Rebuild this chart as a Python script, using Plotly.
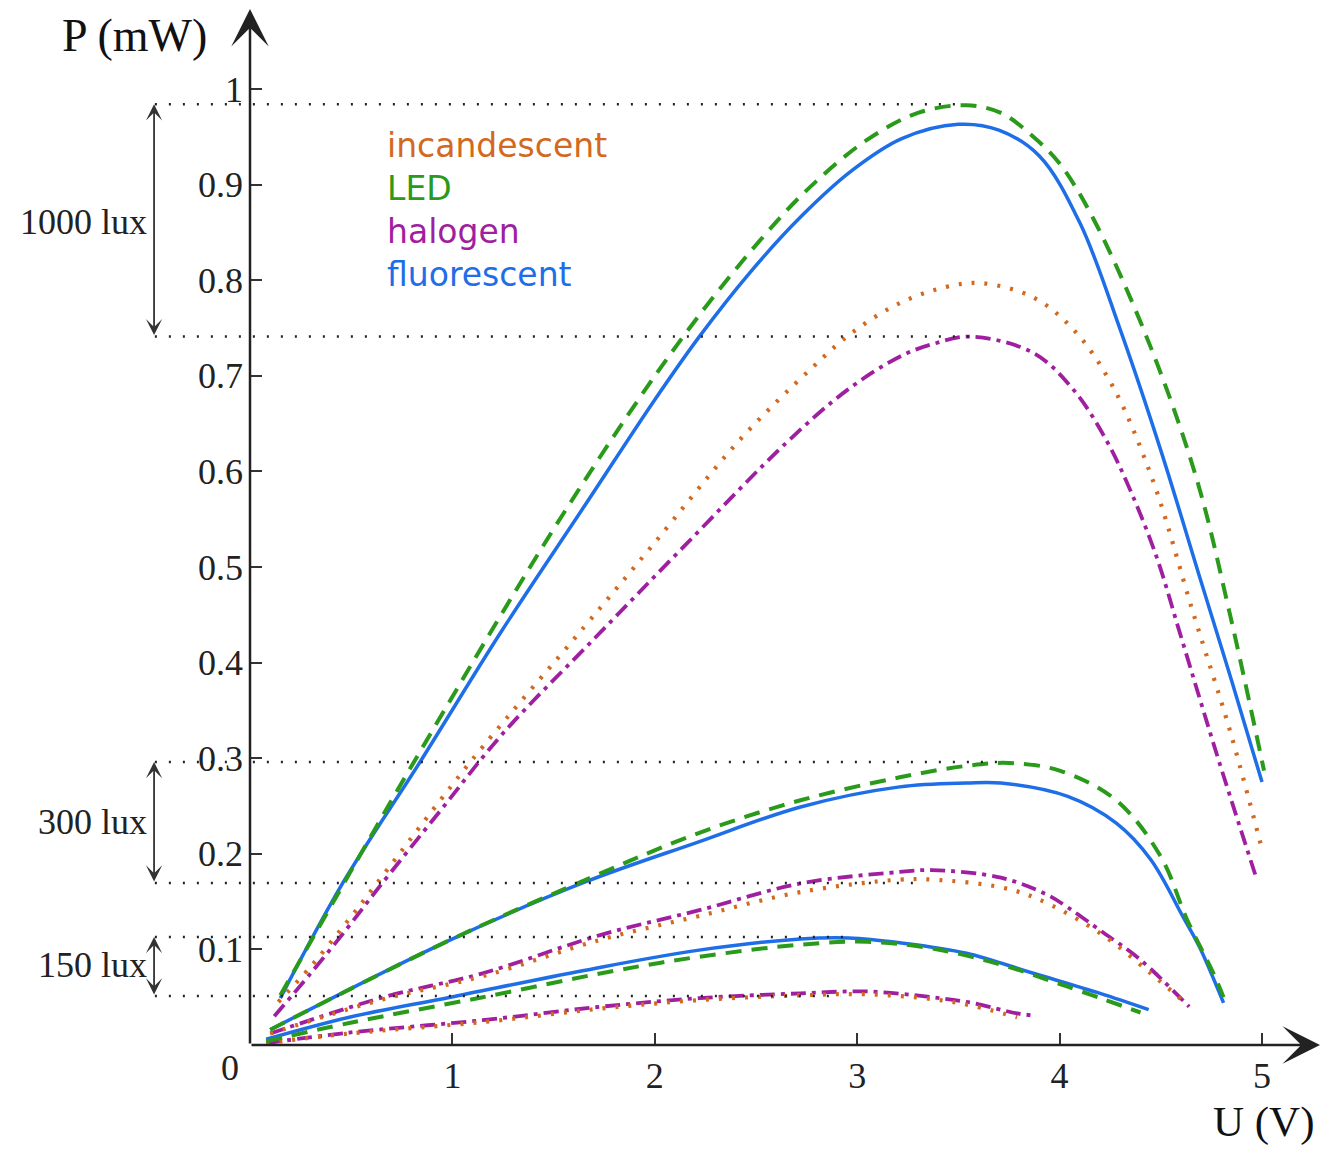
import plotly.graph_objects as go

# ---------------- data (U in V, P in mW) ----------------
fluo_1000_u = [0.15, 0.46, 0.84, 1.24, 1.65, 2.00, 2.22, 2.47, 2.72, 2.97, 3.22, 3.50, 3.70, 3.90, 4.10, 4.30, 4.50, 4.70, 4.85, 5.00]
fluo_1000_p = [0.049, 0.17, 0.296, 0.432, 0.563, 0.675, 0.741, 0.808, 0.866, 0.914, 0.948, 0.963, 0.957, 0.93, 0.86, 0.748, 0.622, 0.484, 0.381, 0.275]

led_1000_u = [0.15, 0.81, 1.57, 2.14, 2.55, 2.78, 3.05, 3.30, 3.54, 3.71, 3.87, 4.00, 4.17, 4.45, 4.68, 4.84, 5.01]
led_1000_p = [0.052, 0.296, 0.563, 0.741, 0.849, 0.900, 0.947, 0.975, 0.983, 0.975, 0.950, 0.922, 0.863, 0.73, 0.59, 0.452, 0.287]

inc_1000_u = [0.14, 0.30, 0.48, 0.63, 0.94, 1.15, 1.65, 1.99, 2.42, 2.78, 2.98, 3.21, 3.44, 3.61, 3.87, 4.07, 4.26, 4.46, 4.66, 4.84, 5.00]
inc_1000_p = [0.045, 0.082, 0.129, 0.17, 0.256, 0.312, 0.437, 0.523, 0.633, 0.709, 0.746, 0.776, 0.793, 0.797, 0.782, 0.748, 0.69, 0.591, 0.452, 0.33, 0.205]

hal_1000_u = [0.12, 0.30, 0.48, 0.63, 0.94, 1.25, 1.71, 2.16, 2.65, 2.95, 3.21, 3.37, 3.56, 3.87, 4.07, 4.23, 4.35, 4.48, 4.59, 4.69, 4.79, 4.97]
hal_1000_p = [0.03, 0.075, 0.122, 0.163, 0.245, 0.326, 0.427, 0.525, 0.63, 0.685, 0.72, 0.733, 0.741, 0.724, 0.685, 0.633, 0.58, 0.51, 0.434, 0.364, 0.295, 0.176]

fluo_300_u = [0.10, 0.99, 1.65, 2.21, 2.72, 3.21, 3.54, 3.71, 4.04, 4.28, 4.45, 4.61, 4.69, 4.81]
fluo_300_p = [0.016, 0.11, 0.17, 0.212, 0.249, 0.27, 0.274, 0.274, 0.26, 0.232, 0.194, 0.134, 0.103, 0.044]

led_300_u = [0.10, 0.99, 1.65, 2.22, 2.72, 3.21, 3.54, 3.75, 4.00, 4.28, 4.50, 4.63, 4.76, 4.81]
led_300_p = [0.016, 0.11, 0.172, 0.222, 0.256, 0.28, 0.292, 0.295, 0.287, 0.256, 0.197, 0.131, 0.075, 0.05]

hal_300_u = [0.10, 0.66, 1.15, 1.73, 2.22, 2.72, 3.21, 3.37, 3.71, 3.94, 4.04, 4.20, 4.40, 4.64]
hal_300_p = [0.012, 0.05, 0.075, 0.115, 0.141, 0.169, 0.181, 0.183, 0.175, 0.157, 0.144, 0.12, 0.089, 0.04]

inc_300_u = [0.10, 0.66, 1.15, 1.73, 2.22, 2.72, 3.21, 3.37, 3.71, 3.89, 4.20, 4.45, 4.62]
inc_300_p = [0.012, 0.048, 0.072, 0.11, 0.135, 0.16, 0.173, 0.173, 0.165, 0.153, 0.117, 0.075, 0.044]

fluo_150_u = [0.08, 0.49, 0.99, 1.65, 2.21, 2.72, 2.96, 3.21, 3.54, 3.87, 4.20, 4.44]
fluo_150_p = [0.006, 0.029, 0.05, 0.078, 0.099, 0.111, 0.112, 0.107, 0.096, 0.075, 0.054, 0.037]

led_150_u = [0.08, 0.49, 1.15, 1.81, 2.21, 2.72, 3.05, 3.37, 3.71, 4.04, 4.40]
led_150_p = [0.004, 0.023, 0.05, 0.078, 0.092, 0.105, 0.108, 0.101, 0.084, 0.061, 0.034]

hal_150_u = [0.08, 0.49, 1.15, 1.73, 2.22, 2.72, 3.05, 3.37, 3.57, 3.79, 3.87]
hal_150_p = [0.002, 0.013, 0.026, 0.04, 0.049, 0.054, 0.056, 0.05, 0.044, 0.033, 0.031]

inc_150_u = [0.08, 0.49, 1.15, 1.73, 2.22, 2.72, 3.05, 3.37, 3.57, 3.79]
inc_150_p = [0.002, 0.012, 0.024, 0.038, 0.047, 0.052, 0.053, 0.048, 0.041, 0.029]

# reference levels (dotted lines): level, end voltage
ref_levels = [0.984, 0.741, 0.296, 0.1695, 0.113, 0.0513]
ref_ends = [3.52, 3.57, 3.72, 3.32, 2.97, 2.92]

lux_labels = ["1000 lux", "300 lux", "150 lux"]
lux_top = [0.984, 0.296, 0.113]
lux_bottom = [0.741, 0.1695, 0.0513]
lux_text_y = [0.861, 0.233, 0.084]

legend_names = ["incandescent", "LED", "halogen", "fluorescent"]

x_ticks = [1, 2, 3, 4, 5]
y_ticks = [0.1, 0.2, 0.3, 0.4, 0.5, 0.6, 0.7, 0.8, 0.9, 1.0]
y_ticktext = ["0.1", "0.2", "0.3", "0.4", "0.5", "0.6", "0.7", "0.8", "0.9", "1"]

# ---------------- styles ----------------
C_INC = "#d2691e"
C_LED = "#2a9a1a"
C_HAL = "#a01fa0"
C_FLU = "#1e6ee8"
legend_colors = [C_INC, C_LED, C_HAL, C_FLU]

sty = {
    "hal": dict(color=C_HAL, width=3.8, dash="15px,6px,4px,6px"),
    "inc": dict(color=C_INC, width=4.2, dash="3px,10px"),
    "flu": dict(color=C_FLU, width=3.5),
    "led": dict(color=C_LED, width=4, dash="16px,10px"),
}

XMAX = 1070 / 202.4
YMAX = 1037 / 956.0
PXU = 956.0  # pixels per mW on the y axis
SERIF = "Liberation Serif, Times New Roman, serif"


def px(u):
    return u / XMAX


def py(p):
    return p / YMAX


fig = go.Figure()

series = [
    (hal_1000_u, hal_1000_p, "hal"), (inc_1000_u, inc_1000_p, "inc"),
    (fluo_1000_u, fluo_1000_p, "flu"), (led_1000_u, led_1000_p, "led"),
    (hal_300_u, hal_300_p, "hal"), (inc_300_u, inc_300_p, "inc"),
    (fluo_300_u, fluo_300_p, "flu"), (led_300_u, led_300_p, "led"),
    (hal_150_u, hal_150_p, "hal"), (inc_150_u, inc_150_p, "inc"),
    (fluo_150_u, fluo_150_p, "flu"), (led_150_u, led_150_p, "led"),
]
for u, p, k in series:
    fig.add_trace(go.Scatter(x=u, y=p, mode="lines", line=dict(shape="spline", **sty[k]),
                             showlegend=False, hoverinfo="skip"))

shapes = []
for lv, xe in zip(ref_levels, ref_ends):
    shapes.append(dict(type="line", xref="paper", yref="paper",
                       x0=px(-0.47), x1=px(xe), y0=py(lv), y1=py(lv),
                       line=dict(color="#222222", width=2.5, dash="2px,12px"), layer="above"))

ann = []
# axes with arrows
ann.append(dict(x=XMAX, y=0, ax=0, ay=0, xref="x", yref="y", axref="x", ayref="y",
                text="", showarrow=True, arrowhead=3, arrowsize=2.5, arrowwidth=2.5,
                arrowcolor="#222222", standoff=0, startstandoff=0))
ann.append(dict(x=0, y=YMAX - 0.001, ax=0, ay=0, xref="x", yref="y", axref="x", ayref="y",
                text="", showarrow=True, arrowhead=3, arrowsize=2.5, arrowwidth=2.5,
                arrowcolor="#222222", standoff=0, startstandoff=0))
# lux double arrows and labels
for lab, t, b, ty in zip(lux_labels, lux_top, lux_bottom, lux_text_y):
    ann.append(dict(x=px(-0.474), y=py(t), xref="paper", yref="paper",
                    ax=0, ay=(t - b) * PXU, axref="pixel", ayref="pixel",
                    text="", showarrow=True, arrowside="end+start", arrowhead=3, startarrowhead=3,
                    arrowsize=1.5, startarrowsize=1.5, arrowwidth=1.8, arrowcolor="#333333",
                    standoff=0, startstandoff=0))
    ann.append(dict(x=px(-0.50), y=py(ty), xref="paper", yref="paper", text=lab, showarrow=False,
                    xanchor="right", yanchor="middle",
                    font=dict(family=SERIF, size=36, color="#222222")))
# legend texts in one block
leg_text = "<br>".join(
    f"<span style='color:{c}'>{n}</span>" for n, c in zip(legend_names, legend_colors))
ann.append(dict(x=0.665, y=0.963, xref="x", yref="y", text=leg_text, showarrow=False,
                xanchor="left", yanchor="top", align="left",
                font=dict(family="DejaVu Sans, Open Sans, sans-serif", size=33, color=C_INC)))
# axis titles and origin
ann.append(dict(x=px(-0.57), y=py(1.056), xref="paper", yref="paper", text="P (mW)", showarrow=False,
                xanchor="center", yanchor="middle", font=dict(family=SERIF, size=46, color="#111111")))
ann.append(dict(x=px(5.27), y=py(-0.0805), xref="paper", yref="paper", text="U (V)", showarrow=False,
                xanchor="right", yanchor="middle", font=dict(family=SERIF, size=43, color="#111111")))
ann.append(dict(x=px(-0.10), y=py(-0.024), xref="paper", yref="paper", text="0", showarrow=False,
                xanchor="center", yanchor="middle", font=dict(family=SERIF, size=36, color="#222222")))

fig.update_layout(
    width=1320, height=1152,
    margin=dict(l=250, r=0, t=8, b=107),
    paper_bgcolor="white", plot_bgcolor="white",
    shapes=shapes, annotations=ann, showlegend=False,
    xaxis=dict(range=[0, XMAX], showgrid=False, zeroline=False, showline=False,
               tickvals=x_ticks, ticks="inside", ticklen=12, tickwidth=2, tickcolor="#333333",
               ticklabelstandoff=6,
               tickfont=dict(family=SERIF, size=36, color="#222222")),
    yaxis=dict(range=[0, YMAX], showgrid=False, zeroline=False, showline=False,
               tickvals=y_ticks, ticktext=y_ticktext, ticks="inside", ticklen=12, tickwidth=2,
               tickcolor="#333333", ticklabelstandoff=6,
               tickfont=dict(family=SERIF, size=36, color="#222222")),
)

fig.write_html("out.html")
